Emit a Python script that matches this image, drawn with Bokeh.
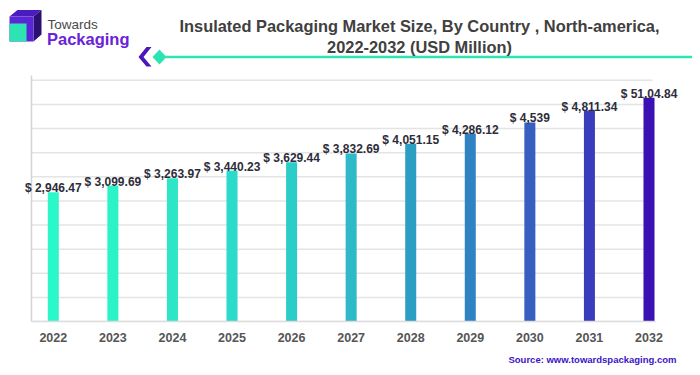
from bokeh.plotting import figure
from bokeh.models import Range1d, FixedTicker, Title
from bokeh.core.properties import value
from bokeh.embed import file_html
from bokeh.resources import INLINE

years = [2022, 2023, 2024, 2025, 2026, 2027, 2028, 2029, 2030, 2031, 2032]
values = [2946.47, 3099.69, 3263.97, 3440.23, 3629.44, 3832.69, 4051.15, 4286.12, 4539, 4811.34, 5104.84]
value_labels = ["$ 2,946.47", "$ 3,099.69", "$ 3,263.97", "$ 3,440.23", "$ 3,629.44", "$ 3,832.69",
                "$ 4,051.15", "$ 4,286.12", "$ 4,539", "$ 4,811.34", "$ 51,04.84"]
year_labels = ["2022", "2023", "2024", "2025", "2026", "2027", "2028", "2029", "2030", "2031", "2032"]
bar_colors = ["#2cf7c9", "#2cf3c7", "#2de6c8", "#2cdac9", "#2ccdc8", "#2db9c8",
              "#2b9fc3", "#2f83c3", "#365fbf", "#3a3dbb", "#3a12b4"]
grid_ticks = [0, 550, 1100, 1650, 2200, 2750, 3300, 3850, 4400, 4950, 5500]
y_max = 5610
title_lines = ["Insulated Packaging Market Size, By Country , North-america,", "2022-2032 (USD Million)"]
source_text = "Source: www.towardspackaging.com"

W, H = 692, 372
BASE = 321          # pixel row of the value axis zero
PX_PER_YEAR = 59.57
PX_2022 = 52.8
PX_PER_UNIT = 0.04385


def dx(px):
    return years[0] + (px - PX_2022) / PX_PER_YEAR


def dy(py):
    return (BASE - py) / PX_PER_UNIT


p = figure(width=W, height=H, x_range=Range1d(dx(0), dx(W)), y_range=Range1d(0, dy(0)),
           output_backend="svg", toolbar_location=None, y_axis_location=None,
           min_border_left=0, min_border_right=0, min_border_top=0, min_border_bottom=H - BASE,
           outline_line_color=None)
p.grid.visible = False

# grid lines and value axis line
gx0, gx1 = dx(31), dx(652)
p.segment(x0=[gx0] * len(grid_ticks), x1=[gx1] * len(grid_ticks), y0=grid_ticks[:], y1=grid_ticks[:],
          line_color="#e4e4e4", line_width=1.5)
p.segment(x0=[gx0], x1=[gx0], y0=[0], y1=[y_max], line_color="#d4d4d4", line_width=1.5)

# bars and labels
p.vbar(x=years, top=values, width=0.185, fill_color=bar_colors, line_color=None)
p.text(x=years, y=values, text=value_labels, text_align="center", text_baseline="alphabetic",
       y_offset=-4, text_font=value("Liberation Sans"), text_font_size="12px",
       text_font_style="bold", text_color="#2d2d3a")

# category axis
p.xaxis.ticker = FixedTicker(ticks=years)
p.xaxis.major_label_overrides = {y: l for y, l in zip(years, year_labels)}
p.xaxis.bounds = (dx(31), dx(655))
p.xaxis.major_tick_line_color = None
p.xaxis.minor_tick_line_color = None
p.xaxis.axis_line_color = "#dcdcdc"
p.xaxis.axis_line_width = 1.5
p.xaxis.major_label_standoff = 5
p.xaxis.major_label_text_font = "Liberation Sans"
p.xaxis.major_label_text_font_size = "12.5px"
p.xaxis.major_label_text_font_style = "bold"
p.xaxis.major_label_text_color = "#555555"

# source line
p.add_layout(Title(text=source_text, align="right", offset=16, standoff=15,
                   text_font="Liberation Sans", text_font_size="9.5px", text_font_style="bold",
                   text_color="#3a14c8"), "below")


# ---------- header (drawn in the plot area, positioned via pixel helpers) ----------
def patch(pts, color):
    p.patch([dx(a) for a, b in pts], [dy(b) for a, b in pts], fill_color=color, line_color=None)


def text(x, y, t, **kw):
    p.text(x=[dx(x)], y=[dy(y)], text=[t], text_baseline="alphabetic",
           text_font=value("Liberation Sans"), **kw)


patch([(9, 16), (17, 9.5), (41, 9.5), (33, 16)], "#4a1bbf")
patch([(33, 16), (41, 9.5), (41, 34), (33, 41)], "#2c0f72")
patch([(9, 16), (33, 16), (33, 41), (9, 41)], "#5a26d6")
patch([(9, 23), (26, 23), (26, 41), (9, 41)], "#2de3b4")
text(47, 24, "Towards", text_font_size="13.5px", text_color="#4a4a4a")
text(46.5, 38, "Packaging", text_font_size="16.5px", text_font_style="bold", text_color="#6a22d8")

p.line([dx(165), dx(700)], [dy(56.5), dy(56.5)], line_color="#2de6b4", line_width=2.5)
patch([(146, 46.5), (151, 46.5), (143, 56.5), (151, 66), (146, 66), (138, 56.5)], "#4a17b8")
patch([(159, 49), (166, 56.5), (159, 64), (152, 56.5)], "#2de3b4")

text(419, 25, title_lines[0], text_align="center", text_font_size="16.4px",
     text_font_style="bold", text_color="#404040")
text(419, 46, title_lines[1], text_align="center", text_font_size="16.4px",
     text_font_style="bold", text_color="#404040")

open("out.html", "w").write(file_html(p, INLINE))
